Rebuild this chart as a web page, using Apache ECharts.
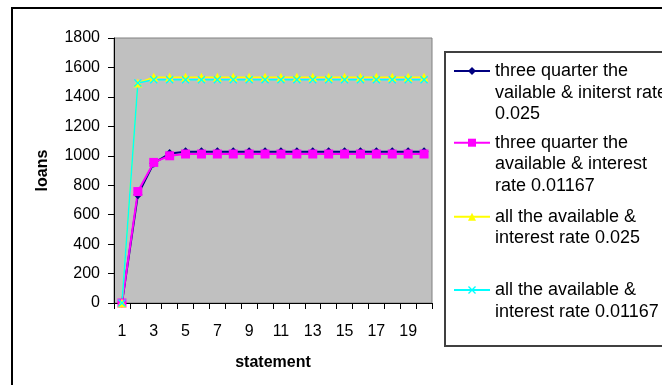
<!DOCTYPE html>
<html>
<head>
<meta charset="utf-8">
<script src="https://cdn.jsdelivr.net/npm/echarts@6/dist/echarts.min.js"></script>
<style>
html,body{margin:0;padding:0;background:#fff;}
#chart{width:662px;height:385px;}
</style>
</head>
<body>
<div id="chart"></div>
<script>
const categories = ["1","2","3","4","5","6","7","8","9","10","11","12","13","14","15","16","17","18","19","20"];
const seriesNames = [
  "three quarter the\nvailable & initerst rate\n0.025",
  "three quarter the\navailable & interest\nrate 0.01167",
  "all the available &\ninterest rate 0.025",
  "all the available &\ninterest rate 0.01167"
];
const threeQuarter025 = [0, 735, 950, 1015, 1028, 1028, 1028, 1028, 1028, 1028, 1028, 1028, 1028, 1028, 1028, 1028, 1028, 1028, 1028, 1028];
const threeQuarter01167 = [0, 757, 955, 1000, 1012, 1012, 1012, 1012, 1012, 1012, 1012, 1012, 1012, 1012, 1012, 1012, 1012, 1012, 1012, 1012];
const all025 = [0, 1495, 1533, 1533, 1533, 1533, 1533, 1533, 1533, 1533, 1533, 1533, 1533, 1533, 1533, 1533, 1533, 1533, 1533, 1533];
const all01167 = [0, 1495, 1516, 1516, 1516, 1516, 1516, 1516, 1516, 1516, 1516, 1516, 1516, 1516, 1516, 1516, 1516, 1516, 1516, 1516];

const FONT = '"Liberation Sans", Arial, sans-serif';
const xSymbol = 'path://M0,1.2L1.2,0L5,3.8L8.8,0L10,1.2L6.2,5L10,8.8L8.8,10L5,6.2L1.2,10L0,8.8L3.8,5Z';

const chart = echarts.init(document.getElementById('chart'), null, {renderer: 'canvas'});

const LH = 21.7;
function legendFor(idx, centerY) {
  const nLines = seriesNames[idx].split('\n').length;
  const pad = nLines - 1;
  const blockLines = nLines + pad;
  return {
    show: true,
    orient: 'vertical',
    left: 453,
    top: centerY - blockLines * LH / 2,
    padding: 0,
    itemWidth: 36,
    itemHeight: 10,
    data: [seriesNames[idx]],
    formatter: function (name) {
      const n = name.split('\n').length - 1;
      return '\n'.repeat(n) + name;
    },
    textStyle: {fontFamily: FONT, fontSize: 18, color: '#000', lineHeight: LH},
    selectedMode: false
  };
}

function hline(x1, y, x2, color, w) {
  return {type: 'line', z: -1, shape: {x1: x1, y1: y, x2: x2, y2: y}, style: {stroke: color, lineWidth: w}};
}
function vline(x, y1, y2, color, w) {
  return {type: 'line', z: -1, shape: {x1: x, y1: y1, x2: x, y2: y2}, style: {stroke: color, lineWidth: w}};
}

const option = {
  animation: false,
  backgroundColor: '#fff',
  grid: {
    left: 114, right: 230, top: 38, bottom: 82,
    show: true, backgroundColor: '#C0C0C0', borderColor: '#808080', borderWidth: 1
  },
  legend: [
    legendFor(0, 71),
    legendFor(1, 142.7),
    legendFor(2, 216.7),
    legendFor(3, 290)
  ],
  xAxis: {
    type: 'category',
    data: categories,
    boundaryGap: true,
    name: 'statement',
    nameLocation: 'middle',
    nameGap: 52,
    nameTextStyle: {fontFamily: FONT, fontSize: 16, fontWeight: 'bold', color: '#000'},
    axisLine: {show: true, onZero: false, lineStyle: {color: '#000', width: 1}},
    axisTick: {show: true, length: 6, alignWithLabel: false, interval: 0, lineStyle: {color: '#000'}},
    axisLabel: {interval: 1, margin: 21, fontFamily: FONT, fontSize: 16, color: '#000'},
    splitLine: {show: false}
  },
  yAxis: {
    type: 'value',
    min: 0, max: 1800, interval: 200,
    name: 'loans',
    nameLocation: 'middle',
    nameGap: 63,
    nameRotate: 90,
    nameTextStyle: {fontFamily: FONT, fontSize: 16, fontWeight: 'bold', color: '#000'},
    axisLine: {show: true, lineStyle: {color: '#000', width: 1}},
    axisTick: {show: true, length: 6, lineStyle: {color: '#000'}},
    axisLabel: {margin: 14, fontFamily: FONT, fontSize: 16, color: '#000',
      formatter: function (v) { return String(v); }},
    splitLine: {show: false}
  },
  graphic: [
    hline(11, 8, 662, '#000', 2),
    vline(12, 7, 385, '#000', 2),
    hline(444, 52, 662, '#404040', 2),
    vline(445, 51, 347, '#404040', 2),
    hline(444, 346, 662, '#404040', 2)
  ],
  series: [
    {name: seriesNames[0], type: 'line', data: threeQuarter025,
     symbol: 'diamond', symbolSize: 9, showAllSymbol: true,
     lineStyle: {color: '#000080', width: 2}, itemStyle: {color: '#000080'}},
    {name: seriesNames[1], type: 'line', data: threeQuarter01167,
     symbol: 'rect', symbolSize: 9, showAllSymbol: true,
     lineStyle: {color: '#FF00FF', width: 2}, itemStyle: {color: '#FF00FF'}},
    {name: seriesNames[2], type: 'line', data: all025,
     symbol: 'triangle', symbolSize: 9, showAllSymbol: true,
     lineStyle: {color: '#FFFF00', width: 1.5}, itemStyle: {color: '#FFFF00'}},
    {name: seriesNames[3], type: 'line', data: all01167,
     symbol: xSymbol, symbolSize: 8, showAllSymbol: true,
     lineStyle: {color: '#00FFFF', width: 1.5}, itemStyle: {color: '#00FFFF'}}
  ]
};
chart.setOption(option);
</script>
</body>
</html>
